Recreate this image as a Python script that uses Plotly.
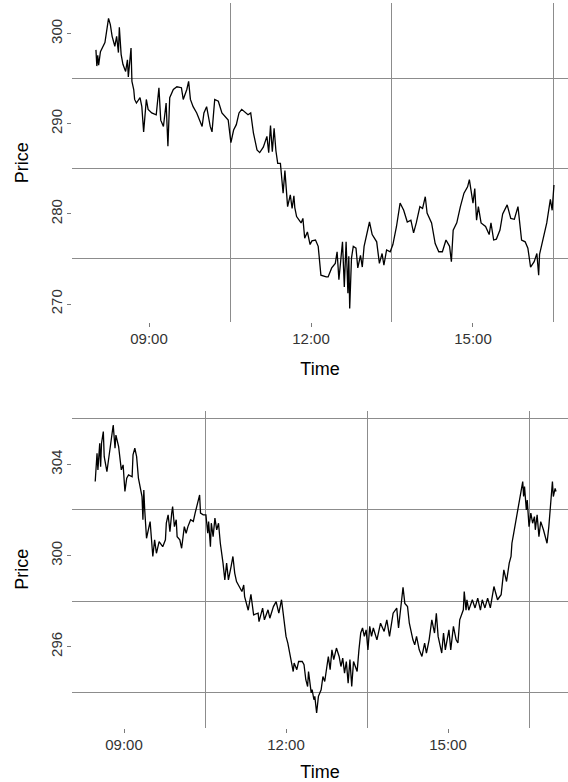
import plotly.graph_objects as go
import pandas as pd

DAY = "2024-01-02 "

# ---- top panel data ----
top_time = ["08:01","08:02","08:03","08:04","08:06","08:09","08:11","08:15","08:17","08:19",
            "08:22","08:24","08:26","08:27","08:29","08:31","08:34","08:36","08:37","08:40",
            "08:41","08:43","08:44","08:46","08:50","08:52","08:54","08:57","08:59","09:03",
            "09:08","09:11","09:13","09:16","09:19","09:21","09:23","09:27","09:31","09:36",
            "09:38","09:42","09:44","09:46","09:49","09:53","09:57","09:59","10:01","10:04",
            "10:08","10:10","10:13","10:17","10:21","10:24","10:28","10:31","10:34","10:37",
            "10:40","10:43","10:47","10:50","10:53","10:56","11:00","11:03","11:07","11:11",
            "11:13","11:15","11:17","11:19","11:21","11:23","11:26","11:27","11:29","11:31",
            "11:34","11:37","11:39","11:41","11:42","11:44","11:49","11:51","11:53","11:56",
            "11:59","12:01","12:05","12:08","12:11","12:17","12:19","12:23","12:27","12:29",
            "12:31","12:35","12:37","12:39","12:41","12:42","12:43","12:45","12:47","12:50",
            "12:52","12:55","12:57","12:59","13:02","13:05","13:08","13:13","13:16","13:19",
            "13:21","13:24","13:28","13:31","13:35","13:39","13:43","13:47","13:51","13:54",
            "13:57","14:01","14:04","14:07","14:09","14:14","14:18","14:22","14:26","14:30",
            "14:34","14:36","14:38","14:42","14:46","14:50","14:54","14:56","14:58","15:00",
            "15:02","15:04","15:06","15:09","15:14","15:18","15:20","15:23","15:26","15:30",
            "15:33","15:38","15:42","15:46","15:50","15:52","15:54","15:58","16:01","16:04",
            "16:08","16:11","16:13","16:14","16:18","16:22","16:26","16:28","16:30"]
top_price = [298.2,296.4,297.6,296.5,298.0,298.6,299.0,301.7,301.0,299.7,
             298.6,299.7,297.9,300.7,297.7,296.6,295.8,297.1,295.2,298.4,
             294.7,293.8,292.7,292.3,292.9,291.9,289.1,292.7,291.6,291.2,
             291.0,294.0,290.4,289.7,292.3,287.5,292.9,293.8,294.1,294.0,
             292.7,293.8,294.7,292.7,291.9,291.2,290.1,289.7,291.2,291.9,
             289.7,289.1,292.7,292.5,291.2,290.8,290.4,287.9,289.3,289.9,
             291.2,291.6,291.3,291.0,291.2,289.0,287.1,286.8,287.4,288.6,
             286.8,289.8,286.9,289.5,287.0,285.6,285.6,284.5,282.3,284.8,
             280.8,282.1,280.6,282.0,280.7,279.7,279.0,279.5,277.3,278.0,
             276.6,277.0,277.1,276.4,273.2,273.0,273.0,274.0,274.5,275.8,
             272.7,276.9,271.9,276.9,271.2,275.3,269.5,275.1,276.4,276.2,
             274.0,275.4,274.1,276.4,277.9,279.1,277.7,276.9,274.5,275.6,
             274.3,276.0,275.8,276.6,278.6,281.2,280.4,279.1,279.3,277.9,
             279.0,280.8,280.6,281.9,280.1,279.0,276.7,275.8,275.8,277.1,
             276.4,274.7,278.2,279.0,280.8,282.3,283.0,283.8,282.5,281.2,
             282.8,279.3,280.8,279.0,278.6,277.7,279.0,277.1,277.2,278.2,
             280.0,281.0,279.5,279.4,280.8,279.0,277.1,276.9,276.2,274.1,
             274.7,275.6,273.2,275.5,277.1,279.0,281.6,280.4,283.2]

# ---- bottom panel data ----
bot_time = ["08:28","08:30","08:31","08:33","08:34","08:35","08:37","08:38","08:41","08:44",
            "08:46","08:48","08:50","08:51","08:54","08:56","08:57","08:59","09:01","09:03",
            "09:05","09:09","09:10","09:12","09:14","09:16","09:18","09:20","09:21","09:22",
            "09:23","09:25","09:29","09:32","09:34","09:36","09:39","09:43","09:46","09:47",
            "09:49","09:51","09:53","09:54","09:56","09:58","09:59","10:02","10:04","10:07",
            "10:09","10:11","10:14","10:17","10:19","10:21","10:24","10:25","10:28","10:31",
            "10:33","10:34","10:36","10:37","10:39","10:41","10:43","10:45","10:47","10:50",
            "10:52","10:54","10:56","10:59","11:01","11:03","11:05","11:08","11:11","11:13",
            "11:14","11:18","11:21","11:24","11:29","11:30","11:34","11:36","11:40","11:42",
            "11:46","11:49","11:52","11:55","11:58","12:00","12:02","12:04","12:06","12:08",
            "12:09","12:12","12:14","12:18","12:20","12:22","12:24","12:25","12:28","12:29",
            "12:31","12:32","12:34","12:36","12:39","12:41","12:43","12:45","12:47","12:49",
            "12:51","12:53","12:56","12:59","13:01","13:03","13:05","13:07","13:09","13:11",
            "13:13","13:15","13:19","13:21","13:23","13:25","13:27","13:29","13:31","13:33",
            "13:35","13:37","13:41","13:45","13:49","13:52","13:55","13:59","14:03","14:05",
            "14:08","14:10","14:12","14:15","14:17","14:19","14:21","14:23","14:25","14:28",
            "14:31","14:34","14:36","14:39","14:42","14:45","14:47","14:49","14:53","14:55",
            "14:57","15:01","15:03","15:06","15:09","15:11","15:13","15:17","15:18","15:20",
            "15:21","15:23","15:27","15:30","15:33","15:36","15:38","15:41","15:44","15:47",
            "15:51","15:55","15:59","16:00","16:02","16:05","16:08","16:10","16:11","16:13",
            "16:15","16:17","16:19","16:21","16:23","16:24","16:25","16:27","16:28","16:30",
            "16:32","16:34","16:36","16:37","16:39","16:41","16:43","16:46","16:50","16:52",
            "16:54","16:56","16:57","16:59","17:00"]
bot_price = [303.25,304.49,303.76,304.93,303.90,304.93,305.44,304.34,303.68,304.64,
             305.22,305.73,304.71,305.29,304.78,304.20,303.76,303.98,302.81,303.40,
             303.54,303.46,304.42,304.71,304.34,303.40,303.03,302.59,301.57,302.88,
             302.00,300.76,301.49,299.96,300.69,300.10,300.61,300.39,300.69,301.42,
             301.79,301.05,301.86,302.15,301.27,301.57,300.83,300.69,300.32,301.27,
             300.98,301.27,301.57,301.50,301.86,302.15,302.66,301.86,301.79,301.79,
             300.98,301.49,300.39,301.42,300.83,301.64,301.13,301.42,300.54,299.67,
             298.93,299.67,298.93,299.52,299.96,299.23,298.86,298.64,298.42,298.71,
             298.20,297.60,298.30,297.40,297.47,297.10,297.69,297.18,297.62,297.25,
             297.76,297.98,297.47,298.06,297.18,296.45,296.16,295.72,295.35,294.91,
             295.28,294.99,295.35,295.35,295.21,294.55,294.25,294.91,293.97,294.11,
             293.67,293.82,293.09,293.82,294.11,294.69,294.47,295.13,295.57,294.99,
             295.86,295.43,295.94,295.57,295.13,295.50,294.84,295.35,294.40,295.43,
             294.25,295.35,294.91,295.86,296.60,296.82,296.45,296.74,295.86,296.89,
             296.45,296.82,296.30,297.03,296.67,297.18,296.45,297.47,297.69,296.82,
             297.98,298.61,297.90,297.76,297.03,296.60,296.30,296.08,296.45,295.86,
             295.57,296.16,295.72,296.30,297.18,296.60,297.47,296.45,295.72,296.60,
             295.86,296.74,295.86,296.89,296.30,296.16,297.18,297.62,298.42,297.60,
             298.06,297.60,298.06,297.70,298.13,297.60,298.06,297.70,298.13,297.70,
             298.64,298.06,298.28,298.64,299.37,298.86,299.67,299.96,300.54,300.98,
             301.42,301.86,302.44,302.88,303.25,302.59,303.03,302.00,302.44,301.27,
             301.86,301.42,301.71,301.13,301.79,300.83,301.49,301.13,300.54,301.27,
             302.15,303.25,302.59,302.95,302.81]

top_yticks = [270, 280, 290, 300]
top_ygrid = [275, 285, 295]
bot_yticks = [296, 300, 304]
bot_ygrid = [294, 298, 302, 306]
x_ticks = ["09:00", "12:00", "15:00"]
x_grid = ["10:30", "13:30", "16:30"]

def ts(lst):
    return pd.to_datetime([DAY + t for t in lst])

GRID = "#8c8c8c"
TICKC = "#7a7a7a"
FONT = "Liberation Sans, Arial, sans-serif"

fig = go.Figure()
fig.add_trace(go.Scatter(x=ts(top_time), y=top_price, mode="lines",
                         line=dict(color="black", width=1.3), xaxis="x", yaxis="y",
                         showlegend=False, hoverinfo="skip"))
fig.add_trace(go.Scatter(x=ts(bot_time), y=bot_price, mode="lines",
                         line=dict(color="black", width=1.3), xaxis="x2", yaxis="y2",
                         showlegend=False, hoverinfo="skip"))

def xaxis_cfg(rng, anchor):
    return dict(
        type="date", range=rng, anchor=anchor, domain=[0, 1], automargin=False,
        tickvals=ts(x_ticks), ticktext=x_ticks,
        showgrid=False, zeroline=False, showline=False,
        ticks="outside", ticklen=4, tickwidth=1, tickcolor=TICKC,
        ticklabelstandoff=-1,
        tickfont=dict(size=15, color="#333333", family=FONT),
        minor=dict(tickvals=ts(x_grid), showgrid=True, gridcolor=GRID, gridwidth=1, ticklen=0),
        title=dict(text="Time", font=dict(size=18, color="black", family=FONT), standoff=16),
    )

def yaxis_cfg(rng, dom, anchor, ticks, grid):
    return dict(
        range=rng, domain=dom, anchor=anchor, automargin=False,
        tickvals=ticks, ticktext=[str(v) for v in ticks], tickangle=-90,
        showgrid=False, zeroline=False, showline=False,
        ticks="outside", ticklen=4, tickwidth=1, tickcolor=TICKC,
        ticklabelstandoff=-1,
        tickfont=dict(size=15, color="#333333", family=FONT),
        minor=dict(tickvals=grid, showgrid=True, gridcolor=GRID, gridwidth=1, ticklen=0),
        title=dict(text="Price", font=dict(size=18, color="black", family=FONT), standoff=14),
    )

fig.update_layout(
    width=568, height=782,
    margin=dict(l=72, r=0, t=3, b=54, autoexpand=False),
    paper_bgcolor="white", plot_bgcolor="white",
    font=dict(family=FONT),
    xaxis=xaxis_cfg([DAY + "07:34:24", DAY + "16:45:36"], "y"),
    yaxis=yaxis_cfg([267.97, 303.4], [0.5596, 1.0], "x", top_yticks, top_ygrid),
    xaxis2=xaxis_cfg([DAY + "08:02:12", DAY + "17:13:18"], "y2"),
    yaxis2=yaxis_cfg([292.43, 306.36], [0.0, 0.4377], "x2", bot_yticks, bot_ygrid),
)

fig.write_html("out.html", config={"displayModeBar": False},
               post_script="document.body.style.margin='0';document.body.style.overflow='hidden';")
